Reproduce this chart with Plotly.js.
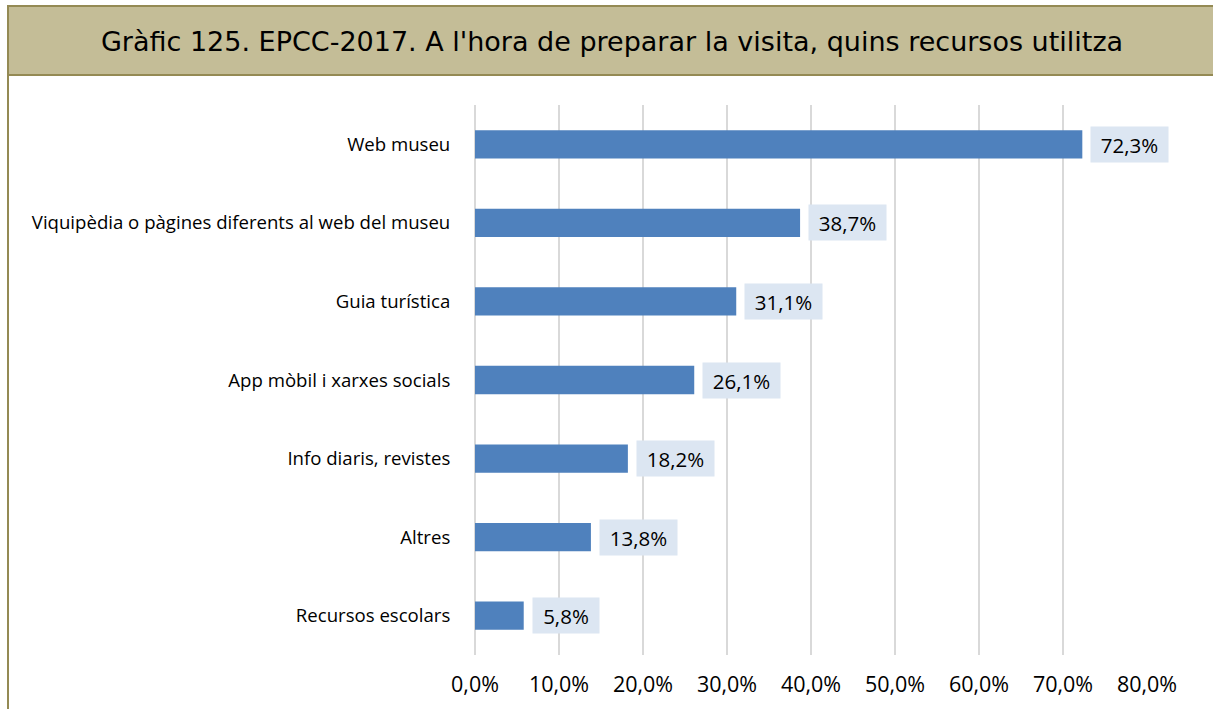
<!DOCTYPE html>
<html>
<head>
<meta charset="utf-8">
<script src="https://cdn.plot.ly/plotly-3.0.1.min.js"></script>
<style>html,body{margin:0;padding:0;background:#fff;}#chart{width:1213px;height:709px;}</style>
</head>
<body>
<div id="chart"></div>
<script>
const categories = ["Web museu", "Viquipèdia o pàgines diferents al web del museu", "Guia turística", "App mòbil i xarxes socials", "Info diaris, revistes", "Altres", "Recursos escolars"];
const values = [72.3, 38.7, 31.1, 26.1, 18.2, 13.8, 5.8];
const tickVals = [0, 10, 20, 30, 40, 50, 60, 70, 80];
const titleText = "Gràfic 125. EPCC-2017. A l'hora de preparar la visita, quins recursos utilitza";

const W = 1213, H = 709;
const M = {l: 475, r: 66, t: 105, b: 54};
const pw = W - M.l - M.r, ph = H - M.t - M.b;
const px = x => (x - M.l) / pw;
const py = y => (H - M.b - y) / ph;

const fmt = v => v.toFixed(1).replace('.', ',') + '%';
const tickText = tickVals.map(fmt);
const FONT = 'Open Sans, Liberation Sans, Arial, sans-serif';

const annotations = values.map((v, i) => ({
  x: v, y: categories[i], xref: 'x', yref: 'y',
  text: fmt(v), showarrow: false, xanchor: 'left', yanchor: 'middle', xshift: 8,
  bgcolor: '#dce6f2', font: {family: FONT, size: 20.5, color: '#000'},
  width: fmt(v).length >= 5 ? 75 : 64, height: 33, align: 'center'
}));

const shapes = [
  {type: 'rect', xref: 'paper', yref: 'paper', x0: px(8), x1: px(W + 10), y0: py(75), y1: py(6),
   fillcolor: '#c4bd97', line: {color: '#948a54', width: 2}, layer: 'below'},
  {type: 'line', xref: 'paper', yref: 'paper', x0: px(8), x1: px(8), y0: py(6), y1: py(H + 5),
   line: {color: '#948a54', width: 2}}
];

Plotly.newPlot('chart', [{
  type: 'bar', orientation: 'h', x: values, y: categories,
  marker: {color: '#4f81bd'}, hoverinfo: 'none'
}], {
  width: W, height: H,
  margin: M,
  paper_bgcolor: '#fff', plot_bgcolor: '#fff',
  separators: ',.',
  bargap: 0.64,
  showlegend: false,
  title: {text: titleText, x: 612 / W, xref: 'container', xanchor: 'center', y: 1 - 42 / H, yref: 'container', yanchor: 'middle',
    font: {family: 'DejaVu Sans, Verdana, sans-serif', size: 27, color: '#000'}},
  xaxis: {range: [0, 80], tickmode: 'array', tickvals: tickVals, ticktext: tickText,
    showgrid: true, gridcolor: '#d9d9d9', gridwidth: 1.5, zeroline: true, zerolinecolor: '#d9d9d9', zerolinewidth: 1.5,
    showline: false, ticks: 'outside', ticklen: 10, tickcolor: 'rgba(0,0,0,0)',
    tickfont: {family: FONT, size: 21.5, color: '#000'}, fixedrange: true},
  yaxis: {autorange: 'reversed', showgrid: false, showline: false, zeroline: false,
    ticks: 'outside', ticklen: 20, tickcolor: 'rgba(0,0,0,0)',
    tickfont: {family: FONT, size: 18.6, color: '#000'}, fixedrange: true},
  annotations: annotations,
  shapes: shapes
}, {displayModeBar: false, staticPlot: true});
</script>
</body>
</html>
